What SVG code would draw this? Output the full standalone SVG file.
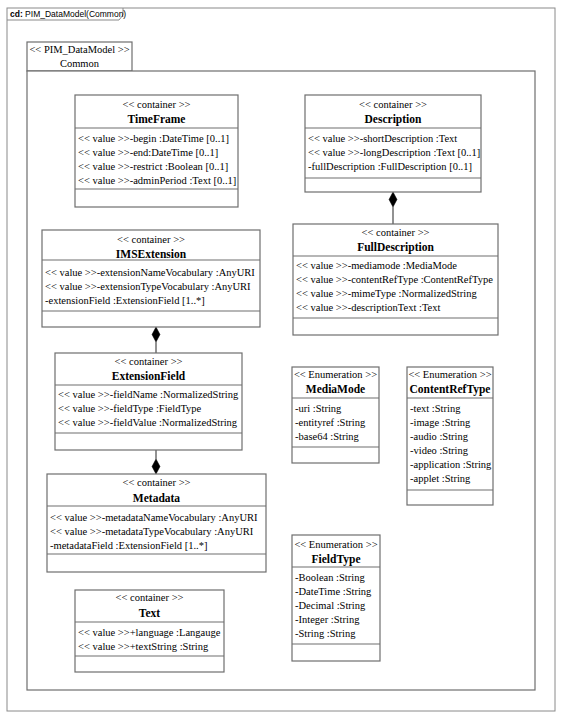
<svg xmlns="http://www.w3.org/2000/svg" width="562" height="718" viewBox="0 0 562 718">
<style>
.frame{fill:none;stroke:#8a8a8a;stroke-width:1}
.box{fill:#fff;stroke:#6e6e6e;stroke-width:1.2}
.div{stroke:#6e6e6e;stroke-width:1.2}
.conn{stroke:#6e6e6e;stroke-width:1.5;fill:none}
.dia{fill:#000;stroke:#000;stroke-width:0.5}
text{font-family:"Liberation Serif","Times New Roman",serif;font-size:10.5px;fill:#000}
.st{text-anchor:middle}
.nm{text-anchor:middle;font-weight:bold;font-size:11.5px}
.tab{font-family:"Liberation Sans",Arial,sans-serif;font-size:8.5px}
</style>
<rect x="0" y="0" width="562" height="718" fill="#fff"/>
<g id="frame">
<rect class="frame" x="7" y="8" width="548" height="703"/>
<path class="frame" d="M7 20 H119 L123 15 V8"/>
<text class="tab" x="10" y="17"><tspan font-weight="bold">cd:</tspan> PIM_DataModel(Common)</text>
</g>
<g id="package">
<rect class="box" x="27" y="42" width="105" height="29"/>
<rect class="box" x="27" y="71" width="508" height="619"/>
<text class="st" x="79.5" y="53">&lt;&lt; PIM_DataModel &gt;&gt;</text>
<text class="st" x="79.5" y="67">Common</text>
</g>
<g id="connectors">
<line class="conn" x1="393" y1="207" x2="393" y2="224"/>
<polygon class="dia" points="393,192 397,199.5 393,207 389,199.5"/>
<line class="conn" x1="156" y1="342" x2="156" y2="353"/>
<polygon class="dia" points="156,327 160,334.5 156,342 152,334.5"/>
<line class="conn" x1="156" y1="450" x2="156" y2="459"/>
<polygon class="dia" points="156,459 160,466.5 156,474 152,466.5"/>
</g>
<g id="TimeFrame">
<rect class="box" x="75" y="95" width="163" height="112"/>
<line class="div" x1="75" y1="128" x2="238" y2="128"/>
<line class="div" x1="75" y1="189" x2="238" y2="189"/>
<text class="st" x="156.5" y="108">&lt;&lt; container &gt;&gt;</text>
<text class="nm" x="156.5" y="123">TimeFrame</text>
<text x="78" y="142">&lt;&lt; value &gt;&gt;-begin :DateTime [0..1]</text>
<text x="78" y="156">&lt;&lt; value &gt;&gt;-end:DateTime [0..1]</text>
<text x="78" y="170">&lt;&lt; value &gt;&gt;-restrict :Boolean [0..1]</text>
<text x="78" y="184">&lt;&lt; value &gt;&gt;-adminPeriod :Text [0..1]</text>
</g>
<g id="Description">
<rect class="box" x="305" y="95" width="176" height="97"/>
<line class="div" x1="305" y1="128" x2="481" y2="128"/>
<line class="div" x1="305" y1="178" x2="481" y2="178"/>
<text class="st" x="393" y="108">&lt;&lt; container &gt;&gt;</text>
<text class="nm" x="393" y="123">Description</text>
<text x="308" y="142">&lt;&lt; value &gt;&gt;-shortDescription :Text</text>
<text x="308" y="156">&lt;&lt; value &gt;&gt;-longDescription :Text [0..1]</text>
<text x="308" y="170">-fullDescription :FullDescription [0..1]</text>
</g>
<g id="FullDescription">
<rect class="box" x="293" y="224" width="205" height="111"/>
<line class="div" x1="293" y1="256" x2="498" y2="256"/>
<line class="div" x1="293" y1="318" x2="498" y2="318"/>
<text class="st" x="395.5" y="236">&lt;&lt; container &gt;&gt;</text>
<text class="nm" x="395.5" y="251">FullDescription</text>
<text x="296" y="269">&lt;&lt; value &gt;&gt;-mediamode :MediaMode</text>
<text x="296" y="283">&lt;&lt; value &gt;&gt;-contentRefType :ContentRefType</text>
<text x="296" y="297">&lt;&lt; value &gt;&gt;-mimeType :NormalizedString</text>
<text x="296" y="311">&lt;&lt; value &gt;&gt;-descriptionText :Text</text>
</g>
<g id="IMSExtension">
<rect class="box" x="42" y="230" width="218" height="97"/>
<line class="div" x1="42" y1="260" x2="260" y2="260"/>
<line class="div" x1="42" y1="311" x2="260" y2="311"/>
<text class="st" x="151" y="243">&lt;&lt; container &gt;&gt;</text>
<text class="nm" x="151" y="258">IMSExtension</text>
<text x="45" y="276">&lt;&lt; value &gt;&gt;-extensionNameVocabulary :AnyURI</text>
<text x="45" y="290">&lt;&lt; value &gt;&gt;-extensionTypeVocabulary :AnyURI</text>
<text x="45" y="304">-extensionField :ExtensionField [1..*]</text>
</g>
<g id="ExtensionField">
<rect class="box" x="55" y="353" width="187" height="97"/>
<line class="div" x1="55" y1="385" x2="242" y2="385"/>
<line class="div" x1="55" y1="433" x2="242" y2="433"/>
<text class="st" x="148.5" y="365">&lt;&lt; container &gt;&gt;</text>
<text class="nm" x="148.5" y="380">ExtensionField</text>
<text x="58" y="398">&lt;&lt; value &gt;&gt;-fieldName :NormalizedString</text>
<text x="58" y="412">&lt;&lt; value &gt;&gt;-fieldType :FieldType</text>
<text x="58" y="426">&lt;&lt; value &gt;&gt;-fieldValue :NormalizedString</text>
</g>
<g id="Metadata">
<rect class="box" x="47" y="474" width="219" height="98"/>
<line class="div" x1="47" y1="506" x2="266" y2="506"/>
<line class="div" x1="47" y1="554" x2="266" y2="554"/>
<text class="st" x="156.5" y="486">&lt;&lt; container &gt;&gt;</text>
<text class="nm" x="156.5" y="502">Metadata</text>
<text x="50" y="521">&lt;&lt; value &gt;&gt;-metadataNameVocabulary :AnyURI</text>
<text x="50" y="535">&lt;&lt; value &gt;&gt;-metadataTypeVocabulary :AnyURI</text>
<text x="50" y="549">-metadataField :ExtensionField [1..*]</text>
</g>
<g id="Text">
<rect class="box" x="75" y="590" width="149" height="82"/>
<line class="div" x1="75" y1="622" x2="224" y2="622"/>
<line class="div" x1="75" y1="656" x2="224" y2="656"/>
<text class="st" x="149.5" y="601">&lt;&lt; container &gt;&gt;</text>
<text class="nm" x="149.5" y="617">Text</text>
<text x="78" y="636">&lt;&lt; value &gt;&gt;+language :Langauge</text>
<text x="78" y="650">&lt;&lt; value &gt;&gt;+textString :String</text>
</g>
<g id="MediaMode">
<rect class="box" x="292" y="367" width="87" height="96"/>
<line class="div" x1="292" y1="398" x2="379" y2="398"/>
<line class="div" x1="292" y1="447" x2="379" y2="447"/>
<text class="st" x="335.5" y="378">&lt;&lt; Enumeration &gt;&gt;</text>
<text class="nm" x="335.5" y="393">MediaMode</text>
<text x="295" y="412">-uri :String</text>
<text x="295" y="426">-entityref :String</text>
<text x="295" y="440">-base64 :String</text>
</g>
<g id="ContentRefType">
<rect class="box" x="407" y="367" width="86" height="138"/>
<line class="div" x1="407" y1="398" x2="493" y2="398"/>
<line class="div" x1="407" y1="490" x2="493" y2="490"/>
<text class="st" x="450" y="378">&lt;&lt; Enumeration &gt;&gt;</text>
<text class="nm" x="450" y="393">ContentRefType</text>
<text x="410" y="412">-text :String</text>
<text x="410" y="426">-image :String</text>
<text x="410" y="440">-audio :String</text>
<text x="410" y="454">-video :String</text>
<text x="410" y="468">-application :String</text>
<text x="410" y="482">-applet :String</text>
</g>
<g id="FieldType">
<rect class="box" x="292" y="535" width="88" height="126"/>
<line class="div" x1="292" y1="567" x2="380" y2="567"/>
<line class="div" x1="292" y1="644" x2="380" y2="644"/>
<text class="st" x="336" y="548">&lt;&lt; Enumeration &gt;&gt;</text>
<text class="nm" x="336" y="563">FieldType</text>
<text x="295" y="581">-Boolean :String</text>
<text x="295" y="595">-DateTime :String</text>
<text x="295" y="609">-Decimal :String</text>
<text x="295" y="623">-Integer :String</text>
<text x="295" y="637">-String :String</text>
</g>
</svg>
